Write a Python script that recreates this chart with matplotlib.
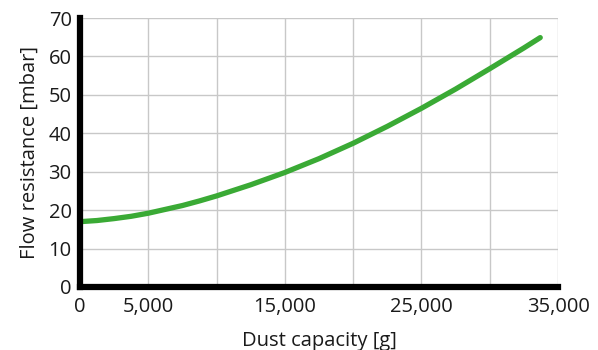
import numpy as np
import matplotlib.pyplot as plt
from matplotlib.ticker import FixedLocator

# data
dust = [0, 1250, 2500, 3750, 5000, 6250, 7500, 8750, 10000, 12500, 15000, 17500,
        20000, 22500, 25000, 27500, 30000, 32500, 33700]
resist = [17.0, 17.3, 17.8, 18.4, 19.2, 20.2, 21.2, 22.4, 23.7, 26.6, 29.8, 33.4,
          37.4, 41.8, 46.5, 51.5, 56.8, 62.2, 64.9]
xlabels = [0, 5000, 15000, 25000, 35000]
grid_x = list(range(0, 35001, 5000))
yticks = list(range(0, 71, 10))

plt.rcParams['font.family'] = ['Open Sans', 'DejaVu Sans']

fig = plt.figure(figsize=(5.98, 3.5), dpi=100)
ax = fig.add_axes([80/598, 63/350, 478/598, 269/350])

ax.plot(dust, resist, color='#3aaa35', lw=3.8, solid_capstyle='round',
        solid_joinstyle='round', zorder=3)

ax.set_xlim(0, 35000)
ax.set_ylim(0, 70)
ax.xaxis.set_minor_locator(FixedLocator(grid_x))
ax.set_xticks(xlabels)
ax.set_xticklabels([f"{v:,}" for v in xlabels])
ax.set_yticks(yticks)
ax.grid(True, which='both', color='#c8c8c8', lw=1)
ax.tick_params(which='both', length=0, labelsize=14.5, colors='#1a1a1a')
ax.tick_params(axis='x', pad=7)
ax.tick_params(axis='y', pad=6)

for s in ['top', 'right']:
    ax.spines[s].set_visible(False)
for s in ['left', 'bottom']:
    ax.spines[s].set_linewidth(4.5)
    ax.spines[s].set_color('black')
    ax.spines[s].set_zorder(4)

ax.set_xlabel('Dust capacity [g]', fontsize=14.5, color='#1a1a1a', labelpad=10)
ax.set_ylabel('Flow resistance [mbar]', fontsize=14.5, color='#1a1a1a', labelpad=6)

fig.savefig('out.png', dpi=100)
